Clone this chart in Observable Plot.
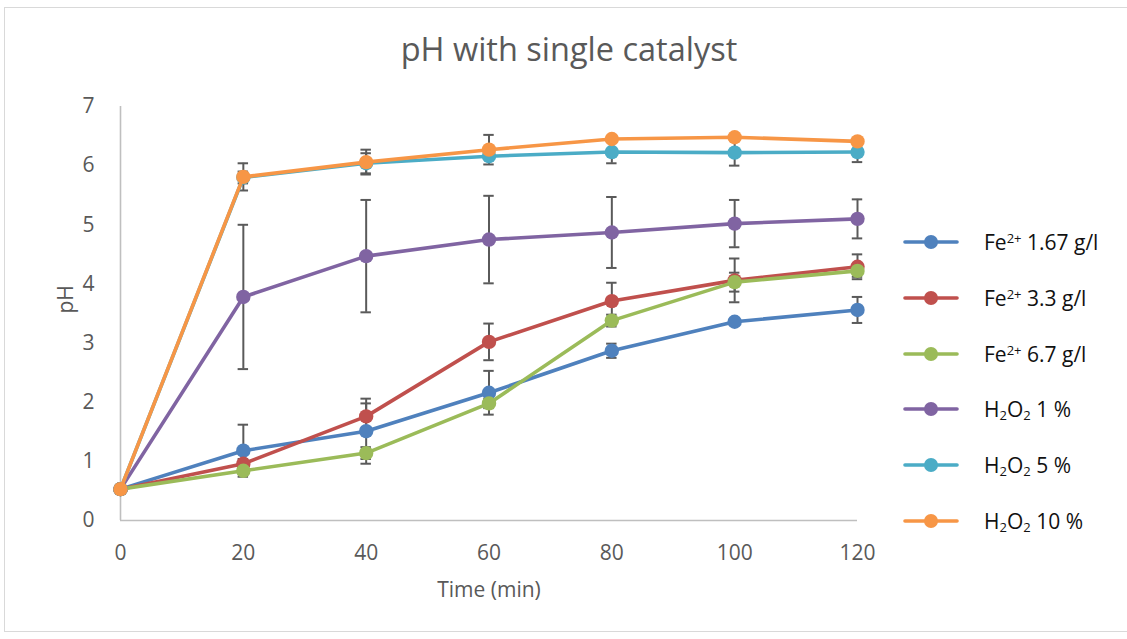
<!DOCTYPE html>
<html>
<head>
<meta charset="utf-8">
<script src="https://cdn.jsdelivr.net/npm/d3@7"></script>
<script src="https://cdn.jsdelivr.net/npm/@observablehq/plot@0.6"></script>
<style>
  html, body { margin: 0; padding: 0; background: #fff; }
  #chart { position: relative; width: 1127px; height: 639px; font-family: "Open Sans", sans-serif; overflow: hidden; }
  #frame { position: absolute; left: 4px; top: 7px; width: 1130px; height: 625px; border: 1px solid #d9d9d9; box-sizing: border-box; pointer-events: none; }
  #title { position: absolute; left: 0; top: 29px; width: 1138px; text-align: center; font-size: 32.5px; color: #595959; line-height: 1.2; }
  #legend { position: absolute; left: 903px; top: 0; }
  .row { position: absolute; left: 0; height: 30px; width: 224px; display: flex; align-items: center; white-space: nowrap; }
  .row svg { flex: none; }
  .row span { margin-left: 25px; font-size: 21px; color: #111; }
  .row sup { font-size: 0.62em; vertical-align: 0.55em; line-height: 0; }
  .row sub { font-size: 0.62em; vertical-align: -0.2em; line-height: 0; }
  #chart > svg { position: absolute; left: 0; top: 0; }
</style>
</head>
<body>
<div id="chart">
  <div id="frame"></div>
  <div id="title">pH with single catalyst</div>
  <div id="legend"></div>
</div>
<script>
// Sampling times (min)
const times = [0, 20, 40, 60, 80, 100, 120];

// Series labels (HTML, for super/subscripts) and colours
const seriesLabels = [
  "Fe<sup>2+</sup> 1.67 g/l",
  "Fe<sup>2+</sup> 3.3 g/l",
  "Fe<sup>2+</sup> 6.7 g/l",
  "H<sub>2</sub>O<sub>2</sub> 1 %",
  "H<sub>2</sub>O<sub>2</sub> 5 %",
  "H<sub>2</sub>O<sub>2</sub> 10 %"
];
const seriesColors = ["#4f81bd", "#c0504d", "#9bbb59", "#8064a2", "#4bacc6", "#f79646"];

// Mean pH per series
const phFe167 = [0.53, 1.18, 1.51, 2.16, 2.87, 3.36, 3.56];
const phFe33  = [0.53, 0.96, 1.76, 3.02, 3.71, 4.06, 4.29];
const phFe67  = [0.53, 0.84, 1.14, 1.98, 3.38, 4.03, 4.22];
const phH1    = [0.53, 3.78, 4.47, 4.75, 4.87, 5.02, 5.10];
const phH5    = [0.53, 5.80, 6.04, 6.16, 6.23, 6.22, 6.23];
const phH10   = [0.53, 5.81, 6.06, 6.27, 6.45, 6.48, 6.41];

// Symmetric error (± pH) per series
const errFe167 = [0, 0.44, 0.55, 0.37, 0.12, 0.05, 0.22];
const errFe33  = [0, 0.08, 0.22, 0.31, 0.31, 0.37, 0.21];
const errFe67  = [0, 0.05, 0.10, 0.08, 0.10, 0.16, 0.10];
const errH1    = [0, 1.22, 0.95, 0.74, 0.60, 0.40, 0.33];
const errH5    = [0, 0.10, 0.17, 0.05, 0.19, 0.22, 0.17];
const errH10   = [0, 0.23, 0.21, 0.25, 0.05, 0.05, 0.05];

// Axis ticks
const xTicks = [0, 20, 40, 60, 80, 100, 120];
const yTicks = [0, 1, 2, 3, 4, 5, 6, 7];

const phSeries = [phFe167, phFe33, phFe67, phH1, phH5, phH10];
const errSeries = [errFe167, errFe33, errFe67, errH1, errH5, errH10];

// Long-form table built from the arrays above
const rows = [];
phSeries.forEach((vals, s) => {
  vals.forEach((v, i) => rows.push({ s, t: times[i], ph: v, err: errSeries[s][i] }));
});
const errRows = rows.filter(d => d.err > 0);
const capRows = errRows.flatMap(d => [
  { t: d.t, v: d.ph + d.err },
  { t: d.t, v: d.ph - d.err }
]);

const capHalf = 0.85;
const axisGrey = "#595959";

const marks = [
  Plot.ruleY([0], { stroke: "#bfbfbf", strokeWidth: 1.6 }),
  Plot.ruleX([0], { stroke: "#bfbfbf", strokeWidth: 1.6 }),
  Plot.axisX({ ticks: xTicks, tickSize: 0, tickPadding: 25, fontSize: 21, fill: axisGrey, label: null, tickFormat: d => String(d) }),
  Plot.axisY({ ticks: yTicks, tickSize: 0, tickPadding: 26, fontSize: 21, fill: axisGrey, label: null, tickFormat: d => String(d) }),
  Plot.text(["pH"], { frameAnchor: "left", dx: -54, rotate: -90, fontSize: 21, fill: axisGrey, text: d => d }),
  Plot.text(["Time (min)"], { frameAnchor: "bottom", dy: 76, fontSize: 21, fill: axisGrey, text: d => d }),
  // error bars
  Plot.ruleX(errRows, { x: "t", y1: d => d.ph - d.err, y2: d => d.ph + d.err, stroke: "#5a5a5a", strokeWidth: 2 }),
  Plot.ruleY(capRows, { y: "v", x1: d => d.t - capHalf, x2: d => d.t + capHalf, stroke: "#5a5a5a", strokeWidth: 2 })
];

// lines then markers, one series after another
phSeries.forEach((vals, s) => {
  const data = rows.filter(d => d.s === s);
  marks.push(Plot.line(data, { x: "t", y: "ph", stroke: seriesColors[s], strokeWidth: 3.6, strokeLinejoin: "round", strokeLinecap: "round" }));
  marks.push(Plot.dot(data, { x: "t", y: "ph", r: 7.2, fill: seriesColors[s], stroke: "none" }));
});

const plot = Plot.plot({
  width: 1127,
  height: 639,
  marginLeft: 120,
  marginRight: 270,
  marginTop: 106,
  marginBottom: 119,
  style: { background: "transparent", fontFamily: "Open Sans, sans-serif" },
  x: { domain: [0, 120] },
  y: { domain: [0, 7] },
  marks
});
document.getElementById("chart").appendChild(plot);

// Legend
const legend = document.getElementById("legend");
const legendTop = 242.3;
const legendStep = 55.7;
seriesLabels.forEach((lab, s) => {
  const row = document.createElement("div");
  row.className = "row";
  row.style.top = (legendTop + s * legendStep - 15) + "px";
  row.innerHTML =
    `<svg width="56" height="30"><line x1="2" y1="15" x2="54" y2="15" stroke="${seriesColors[s]}" stroke-width="3.6" stroke-linecap="round"/>` +
    `<circle cx="28" cy="15" r="7" fill="${seriesColors[s]}"/></svg><span>${lab}</span>`;
  legend.appendChild(row);
});
</script>
</body>
</html>
